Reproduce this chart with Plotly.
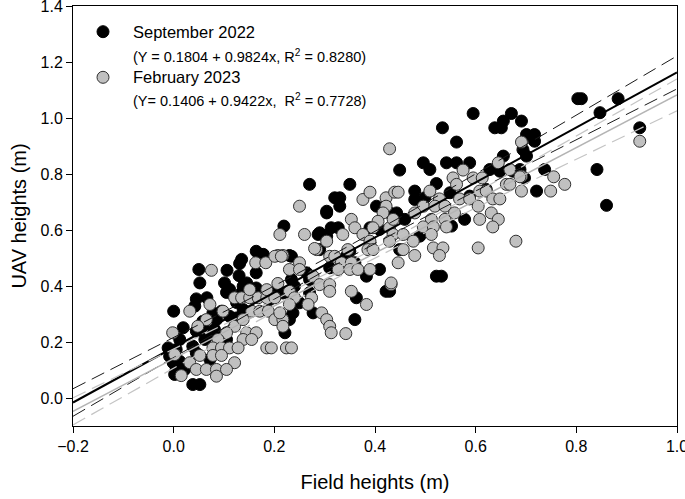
import numpy as np
import plotly.graph_objects as go

# ---------------- data ----------------
sep_x = [0.050, 0.106, 0.131, 0.052, 0.101, 0.130, 0.145, 0.045, 0.066, 0.000,
         0.042, 0.078, 0.095, 0.019, 0.058, 0.085, -0.011, 0.012, 0.038, 0.062,
         0.005, -0.001, 0.002, 0.022, 0.038, 0.052, 0.164, 0.178,
         0.270, 0.350, 0.320, 0.330, 0.304, 0.330, 0.403, 0.443, 0.219, 0.290,
         0.313, 0.327, 0.304, 0.390, 0.409, 0.459, 0.234, 0.290, 0.310, 0.350,
         0.383, 0.409, 0.422, 0.363, 0.360, 0.240, 0.204, 0.217, 0.237, 0.230,
         0.221, 0.277, 0.250,
         0.595, 0.671, 0.655, 0.691, 0.638, 0.651, 0.534, 0.701, 0.562, 0.655,
         0.496, 0.509, 0.449, 0.542, 0.562, 0.588, 0.628, 0.648, 0.674, 0.522,
         0.549, 0.479, 0.479, 0.499, 0.588, 0.621, 0.429, 0.578, 0.552, 0.489,
         0.522, 0.532, 0.429, 0.449,
         0.803, 0.810, 0.883, 0.847, 0.717, 0.717, 0.694, 0.701, 0.926, 0.737,
         0.697, 0.841, 0.721, 0.860, 0.688,
         0.230, 0.135, 0.287, 0.304,
         0.105, 0.125, 0.081, -0.008, 0.111, 0.135, 0.072, 0.045, 0.111, 0.138,
         0.125, 0.105, 0.078, 0.058, 0.045, 0.005, 0.012, 0.164, 0.217, 0.191,
         0.230, 0.270, 0.164, 0.138, 0.234, 0.264, 0.343, 0.360, 0.270]
sep_y = [0.459, 0.456, 0.480, 0.411, 0.411, 0.437, 0.411, 0.354, 0.358, 0.310,
         0.328, 0.304, 0.310, 0.251, 0.274, 0.280, 0.179, 0.209, 0.185, 0.209,
         0.173, 0.126, 0.084, 0.102, 0.048, 0.048, 0.524, 0.513,
         0.763, 0.763, 0.715, 0.715, 0.661, 0.685, 0.685, 0.661, 0.614, 0.590,
         0.608, 0.608, 0.578, 0.608, 0.602, 0.638, 0.506, 0.530, 0.465, 0.524,
         0.435, 0.459, 0.381, 0.358, 0.280, 0.399, 0.381, 0.375, 0.304, 0.280,
         0.233, 0.304, 0.340,
         1.016, 1.016, 0.989, 0.989, 0.965, 0.965, 0.965, 0.941, 0.914, 0.864,
         0.840, 0.816, 0.814, 0.840, 0.840, 0.840, 0.816, 0.810, 0.810, 0.766,
         0.733, 0.739, 0.709, 0.715, 0.721, 0.745, 0.661, 0.638, 0.614, 0.578,
         0.435, 0.435, 0.381, 0.530,
         1.069, 1.069, 1.069, 1.019, 0.941, 0.917, 0.887, 0.864, 0.965, 0.816,
         0.786, 0.816, 0.739, 0.688, 0.816,
         0.509, 0.495, 0.584, 0.667,
         0.377, 0.341, 0.245, 0.149, 0.292, 0.376, 0.138, 0.161, 0.388, 0.316,
         0.286, 0.209, 0.227, 0.256, 0.239, 0.102, 0.131, 0.447, 0.286, 0.352,
         0.376, 0.376, 0.393, 0.399, 0.423, 0.447, 0.506, 0.483, 0.423]

feb_x = [0.075, 0.163, 0.183, 0.207, 0.217, 0.207, 0.121, 0.135, 0.151, 0.168,
         0.185, 0.201, 0.151, 0.185, 0.032, 0.072, 0.098, 0.065, 0.048, 0.121,
         0.138, 0.155, 0.171, 0.188, 0.201, 0.217, -0.002, 0.105, 0.145, 0.164,
         0.088, 0.138, 0.155, 0.078, 0.095, 0.111, 0.128, 0.185, 0.194, 0.224,
         0.052, 0.002, 0.032, 0.078, 0.095, 0.121, 0.045, 0.065, 0.085, 0.105,
         0.015, 0.085,
         0.250, 0.376, 0.390, 0.422, 0.439, 0.446, 0.422, 0.416, 0.353, 0.360,
         0.211, 0.260, 0.336, 0.376, 0.406, 0.429, 0.436, 0.456, 0.396, 0.304,
         0.390, 0.429, 0.284, 0.346, 0.386, 0.396, 0.456, 0.201, 0.214, 0.250,
         0.310, 0.320, 0.333, 0.353, 0.230, 0.250, 0.327, 0.350, 0.366, 0.390,
         0.446, 0.277, 0.230, 0.290, 0.310, 0.310, 0.240, 0.274, 0.353, 0.432,
         0.267, 0.230, 0.383, 0.211, 0.294, 0.304, 0.310, 0.313, 0.342, 0.217,
         0.234,
         0.429, 0.691, 0.645, 0.668, 0.691, 0.575, 0.555, 0.595, 0.613, 0.562,
         0.661, 0.691, 0.509, 0.608, 0.621, 0.528, 0.568, 0.588, 0.634, 0.648,
         0.496, 0.519, 0.539, 0.605, 0.479, 0.512, 0.539, 0.558, 0.631, 0.608,
         0.645, 0.436, 0.496, 0.516, 0.542, 0.634, 0.512, 0.476, 0.516, 0.535,
         0.605, 0.680, 0.479, 0.528, 0.432,
         0.926, 0.688, 0.755, 0.777, 0.749, 0.668, 0.280]
feb_y = [0.456, 0.483, 0.483, 0.509, 0.509, 0.409, 0.358, 0.358, 0.358, 0.358,
         0.358, 0.358, 0.387, 0.387, 0.310, 0.334, 0.310, 0.280, 0.256, 0.256,
         0.280, 0.310, 0.310, 0.310, 0.280, 0.280, 0.233, 0.233, 0.233, 0.233,
         0.209, 0.209, 0.209, 0.179, 0.179, 0.179, 0.179, 0.179, 0.179, 0.179,
         0.152, 0.155, 0.126, 0.152, 0.152, 0.126, 0.102, 0.102, 0.102, 0.102,
         0.080, 0.078,
         0.685, 0.709, 0.735, 0.715, 0.735, 0.735, 0.685, 0.661, 0.638, 0.608,
         0.584, 0.584, 0.584, 0.584, 0.631, 0.608, 0.584, 0.584, 0.608, 0.560,
         0.560, 0.560, 0.530, 0.530, 0.530, 0.530, 0.530, 0.506, 0.506, 0.483,
         0.506, 0.506, 0.483, 0.483, 0.459, 0.459, 0.459, 0.459, 0.459, 0.459,
         0.483, 0.435, 0.381, 0.405, 0.405, 0.381, 0.358, 0.358, 0.381, 0.405,
         0.334, 0.334, 0.334, 0.304, 0.304, 0.280, 0.256, 0.233, 0.230, 0.256,
         0.179,
         0.890, 0.914, 0.840, 0.816, 0.792, 0.814, 0.786, 0.786, 0.786, 0.763,
         0.763, 0.739, 0.739, 0.739, 0.739, 0.711, 0.711, 0.711, 0.711, 0.711,
         0.685, 0.685, 0.685, 0.685, 0.661, 0.638, 0.638, 0.661, 0.661, 0.638,
         0.638, 0.638, 0.611, 0.611, 0.611, 0.611, 0.584, 0.560, 0.536, 0.536,
         0.536, 0.560, 0.509, 0.509, 0.411,
         0.917, 0.790, 0.790, 0.763, 0.739, 0.763, 0.534]

# regression coefficients as printed in the legend (intercept, slope, R2)
sep_fit = [0.1804, 0.9824, 0.8280]
feb_fit = [0.1406, 0.9422, 0.7728]
series_names = ["September 2022", "February 2023"]
x_ticks = [-0.2, 0.0, 0.2, 0.4, 0.6, 0.8, 1.0]
y_ticks = [0.0, 0.2, 0.4, 0.6, 0.8, 1.0, 1.2, 1.4]

FONT = "Liberation Sans, Arial, sans-serif"


def fit_lines(xs, ys, coef, xgrid):
    xs = np.asarray(xs); ys = np.asarray(ys)
    a, b = coef[0], coef[1]
    n = len(xs)
    resid = ys - (a + b * xs)
    s = np.sqrt(np.sum(resid ** 2) / (n - 2))
    xm = xs.mean()
    sxx = np.sum((xs - xm) ** 2)
    yhat = a + b * xgrid
    hw = 1.97 * s * np.sqrt(1.0 / n + (xgrid - xm) ** 2 / sxx)
    return yhat, yhat - hw, yhat + hw


xg = np.linspace(-0.2, 1.0, 121)

fig = go.Figure()
fig.add_trace(go.Scatter(x=sep_x, y=sep_y, mode="markers", name=series_names[0],
                         marker=dict(size=12, color="black",
                                     line=dict(color="black", width=1))))
fig.add_trace(go.Scatter(x=feb_x, y=feb_y, mode="markers", name=series_names[1],
                         marker=dict(size=12, color="#c0c0c0",
                                     line=dict(color="#303030", width=1))))

styles = [(sep_x, sep_y, sep_fit, "black", 2.0, "#1a1a1a", 1.0),
          (feb_x, feb_y, feb_fit, "#b4b4b4", 1.5, "#c4c4c4", 1.2)]
for xs, ys, coef, c, w, dc, dw in styles:
    yhat, lo, hi = fit_lines(xs, ys, coef, xg)
    for yy in (lo, hi):
        fig.add_trace(go.Scatter(x=xg, y=yy, mode="lines", showlegend=False,
                                 line=dict(color=dc, width=dw, dash="14px,7px")))
    fig.add_trace(go.Scatter(x=xg, y=yhat, mode="lines", showlegend=False,
                             line=dict(color=c, width=w)))

# legend drawn manually
leg_x_marker = (103 - 73) / 604
leg_x_text = (131 - 73) / 604
rows = [(31.7, 56.0), (77.3, 100.0)]
colors = [("black", "black"), ("#c0c0c0", "#303030")]
eqs = ["(Y = 0.1804 + 0.9824x, R<sup>2</sup> = 0.8280)",
       "(Y= 0.1406 + 0.9422x,\u00a0 R<sup>2</sup> = 0.7728)"]
shapes = []
annotations = []
for i, (ty, ey) in enumerate(rows):
    py = 1 - (ty - 6) / 420
    shapes.append(dict(type="circle", xref="paper", yref="paper",
                       xsizemode="pixel", ysizemode="pixel",
                       xanchor=leg_x_marker, yanchor=py,
                       x0=-6, x1=6, y0=-6, y1=6,
                       fillcolor=colors[i][0], line=dict(color=colors[i][1], width=1)))
    annotations.append(dict(x=leg_x_text, y=py, xref="paper", yref="paper",
                            xanchor="left", yanchor="middle", showarrow=False,
                            text=series_names[i], font=dict(family=FONT, size=16.5, color="black")))
    annotations.append(dict(x=leg_x_text, y=1 - (ey - 6) / 420, xref="paper", yref="paper",
                            xanchor="left", yanchor="middle", showarrow=False,
                            text=eqs[i], font=dict(family=FONT, size=14.5, color="black")))

fig.update_layout(
    width=685, height=499,
    margin=dict(l=73, r=8, t=6, b=73),
    paper_bgcolor="white", plot_bgcolor="white",
    showlegend=False,
    shapes=shapes, annotations=annotations,
    font=dict(family=FONT, color="black"),
)
fig.update_xaxes(range=[-0.2, 1.0], tickvals=x_ticks, tickformat=".1f",
                 ticklabeloverflow="allow", automargin=False,
                 showgrid=False, zeroline=False, showline=True, linecolor="black",
                 linewidth=1, mirror=True, ticks="outside", ticklen=6, tickcolor="black",
                 tickfont=dict(family=FONT, size=16),
                 title=dict(text="Field heights (m)", font=dict(family=FONT, size=20), standoff=20))
fig.update_yaxes(range=[-0.1, 1.4], tickvals=y_ticks, tickformat=".1f",
                 ticklabeloverflow="allow", automargin=False,
                 showgrid=False, zeroline=False, showline=True, linecolor="black",
                 linewidth=1, mirror=True, ticks="outside", ticklen=6, tickcolor="black",
                 tickfont=dict(family=FONT, size=16),
                 title=dict(text="UAV heights (m)", font=dict(family=FONT, size=20), standoff=8))

fig.write_html("out.html", config={"displayModeBar": False},
               post_script="document.body.style.margin='0';")
